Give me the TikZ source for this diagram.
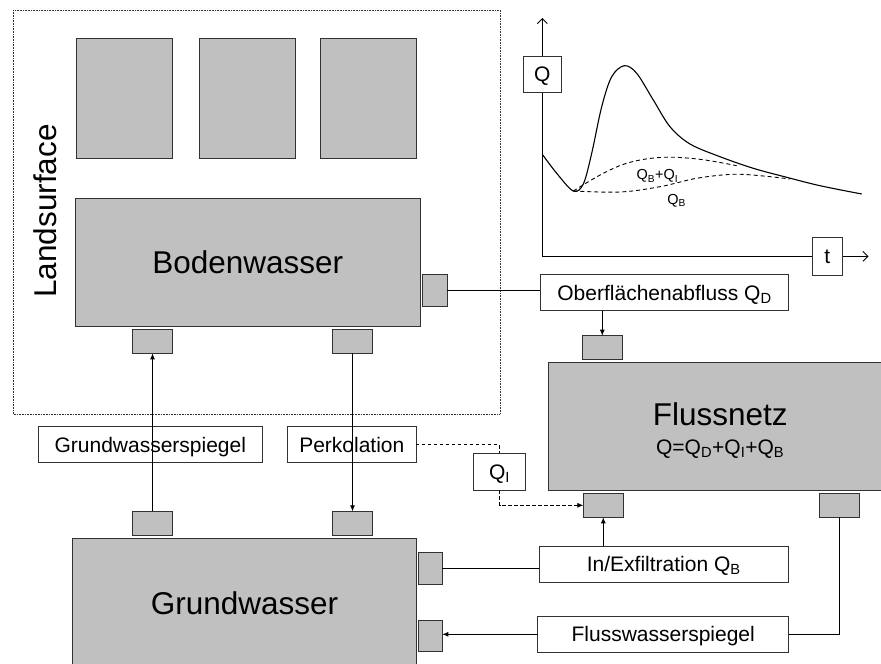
\documentclass[tikz,border=0pt]{standalone}
\usepackage{fontspec}
\setmainfont{Liberation Sans}
\usetikzlibrary{arrows.meta}
\definecolor{boxgray}{RGB}{192,192,192}
\definecolor{edgegray}{RGB}{50,50,50}
\newcommand{\bigfnt}{\fontsize{31.5}{36}\selectfont}
\newcommand{\midfnt}{\fontsize{21}{25}\selectfont}
\newcommand{\smfnt}{\fontsize{14.5}{17}\selectfont}
\newcommand{\ix}[1]{\textsubscript{#1}}
\begin{document}
\begin{tikzpicture}[x=1pt,y=-1pt,
  sz/.style 2 args={minimum width=#1pt, minimum height=#2pt},
  block/.style={draw=edgegray, fill=boxgray, line width=0.9pt, inner sep=0pt, outer sep=0pt,
    font=\bigfnt, text height=22.6pt, text depth=0pt},
  port/.style={draw=edgegray, fill=boxgray, line width=0.9pt, inner sep=0pt, outer sep=0pt},
  label/.style={draw=edgegray, fill=white, line width=0.9pt, inner sep=0pt, outer sep=0pt,
    font=\midfnt, text height=15pt, text depth=0pt},
  conn/.style={draw=black, line width=0.9pt},
  arr/.style={-{Latex[length=6pt,width=5pt]}},
  dashconn/.style={draw=black, line width=0.8pt, dash pattern=on 3.5pt off 2.5pt},
  axis/.style={draw=black, line width=0.9pt, -{Straight Barb[length=5pt,width=10pt]}},
  curve/.style={draw=black, line width=1.1pt},
  dcurve/.style={draw=black, line width=0.9pt, dash pattern=on 4pt off 3pt}]

\clip (0,0) rectangle (881,664);
\fill[white] (0,0) rectangle (881,664);

% land surface frame
\draw[edgegray, line width=0.8pt, dash pattern=on 0.8pt off 0.8pt] (13,10) rectangle (500,414);
\node[rotate=90, font=\bigfnt, text height=22.6pt, text depth=0pt, inner sep=0pt] (land) at (45.5,211) {Landsurface};

% surface compartments
\node[port, sz={96.4}{120}] (top1) at (124.5,98.3) {};
\node[port, sz={96.3}{120}] (top2) at (247.2,98.3) {};
\node[port, sz={96.7}{120}] (top3) at (368.3,98.3) {};

% soil water
\node[block, sz={344.3}{127.7}] (boden) at (247.8,262.2) {Bodenwasser};
\node[port, sz={24.7}{31.7}] (bodr) at (434.7,290.2) {};
\node[port, sz={40.4}{24.3}] (bodb1) at (152.5,341.2) {};
\node[port, sz={40.4}{24.3}] (bodb2) at (352.5,341.2) {};

% exchange labels
\node[label, sz={224}{36}] (gws) at (150.3,444.7) {Grundwasserspiegel};
\node[label, sz={128.3}{36}] (perk) at (351.8,444.7) {Perkolation};
\node[label, sz={52.4}{36.7}] (qi) at (499.5,471.7) {Q\ix{I}};

% groundwater
\node[port, sz={40.4}{24}] (gwt1) at (152.5,523.3) {};
\node[port, sz={40.4}{24}] (gwt2) at (352.5,523.3) {};
\node[block, sz={344.4}{128.7}] (grund) at (244.5,602.7) {Grundwasser};
\node[port, sz={24}{32}] (gwr1) at (430.3,568.3) {};
\node[port, sz={24}{31.7}] (gwr2) at (430.3,635.8) {};

% river network
\node[label, sz={248.4}{36.4}] (ober) at (664.5,292.5) {Oberflächenabfluss Q\ix{D}};
\node[port, sz={40}{23.6}] (fnt) at (602.3,347.5) {};
\node[port, sz={343.7}{128.4}] (fluss) at (720.2,426.5) {};
\node[font=\bigfnt, anchor=base, inner sep=0pt] (flussname) at (720.3,425.7) {Flussnetz};
\node[font=\midfnt, anchor=base, inner sep=0pt] (flusseq) at (720.2,454) {Q=Q\ix{D}+Q\ix{I}+Q\ix{B}};
\node[port, sz={40}{24}] (fnb1) at (603.3,505.3) {};
\node[port, sz={40}{24}] (fnb2) at (839.3,505.3) {};
\node[label, sz={249}{36.3}] (inex) at (663.8,564.2) {In/Exfiltration Q\ix{B}};
\node[label, sz={251}{36.7}] (fws) at (663.2,634.3) {Flusswasserspiegel};

% connectors
\draw[conn, arr] (gwt1.north) -- (bodb1.south);
\draw[conn, arr] (bodb2.south) -- (gwt2.north);
\draw[conn] (bodr.east) -- (ober.west |- bodr.east);
\draw[conn, arr] (ober.south -| fnt.north) -- (fnt.north);
\draw[dashconn] (perk.east) -| (qi.north);
\draw[dashconn, arr] (qi.south) |- (fnb1.west);
\draw[conn, arr] (inex.north -| fnb1.south) -- (fnb1.south);
\draw[conn] (gwr1.east) -- (inex.west |- gwr1.east);
\coordinate (bend) at (fnb2.south |- fws.east);
\draw[conn] (fnb2.south) -- (bend) -- (fws.east);
\draw[conn, arr] (fws.west) -- (gwr2.east |- fws.west);

% hydrograph
\coordinate (orig) at (542.3,256.3);
\coordinate (ytip) at (542.3,18);
\coordinate (xtip) at (868.5,256.3);
\draw[axis] (orig) -- (ytip);
\draw[axis] (orig) -- (xtip);
\node[label, sz={38}{36}] (qax) at (542.3,74) {Q};
\node[label, sz={30}{37.3}] (tax) at (827.3,256.3) {t};

\draw[curve] plot[smooth, tension=0.55] coordinates {
  (542.3,154.3) (556.7,173.3) (573.3,191) (583.3,184) (591.7,153.3)
  (601.7,106.7) (611.7,76.7) (624.3,65.7) (636.7,73.3) (653.3,100)
  (670,126.7) (690,144) (720,156.7) (753.3,168.3) (786.7,177.3)
  (820,185.7) (861.7,194)};
\draw[dcurve] plot[smooth, tension=0.6] coordinates {
  (573.3,191) (603.3,173.3) (630,162.3) (663.3,157.3) (700,159.3) (736.7,165.7)};
\draw[dcurve] plot[smooth, tension=0.6] coordinates {
  (573.3,191) (620,192) (660,186.7) (696.7,178.3) (733.3,174.3) (763.3,176) (790,179)};
\node[font=\smfnt, inner sep=0pt, text height=10.4pt, text depth=0pt] (qbi) at (657.5,174.7) {Q\ix{B}+Q\ix{I}};
\node[font=\smfnt, inner sep=0pt, text height=10.4pt, text depth=0pt] (qb) at (676.7,199.5) {Q\ix{B}};
\end{tikzpicture}
\end{document}
